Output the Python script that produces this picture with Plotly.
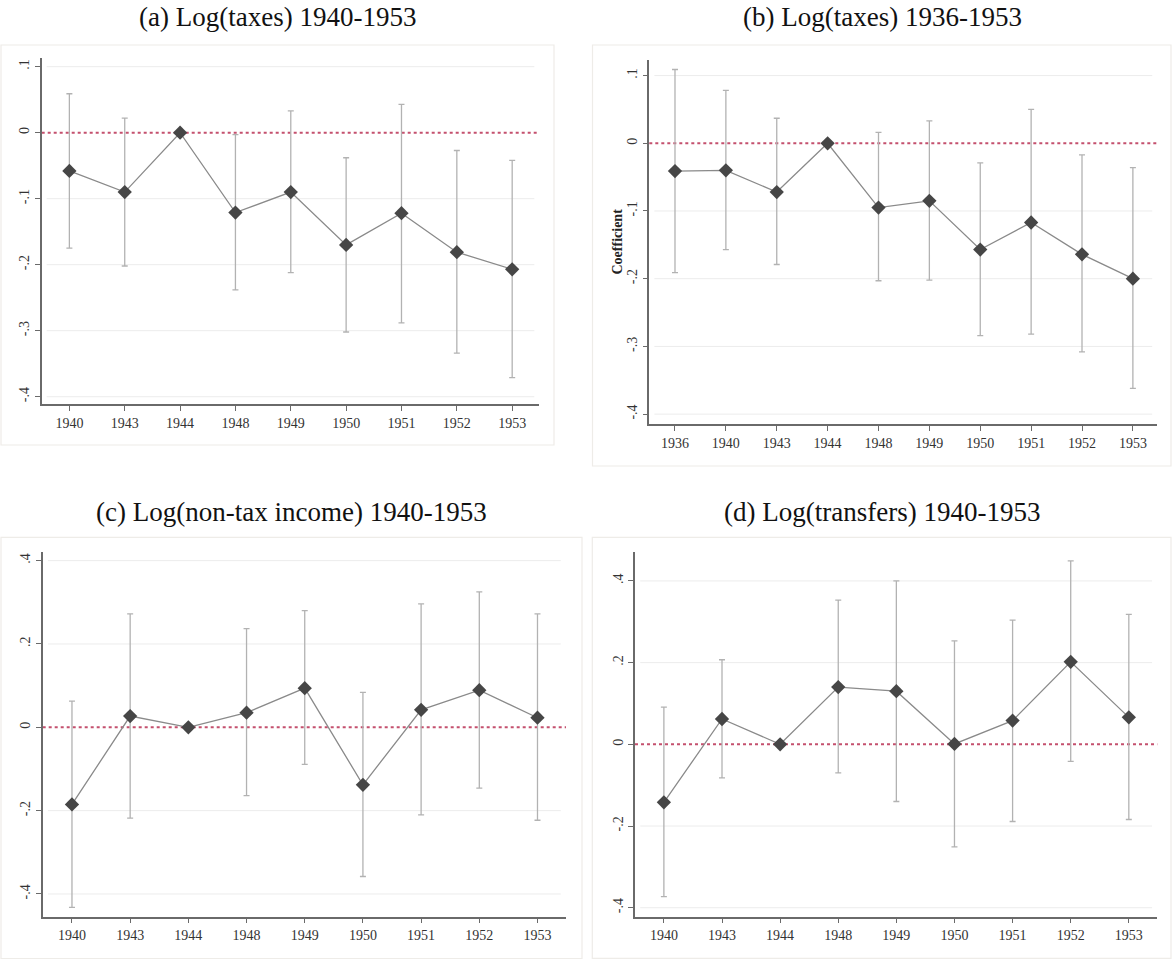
import plotly.graph_objects as go

# ---- data: event-study coefficients with 95% confidence bounds ----
years_a = ["1940", "1943", "1944", "1948", "1949", "1950", "1951", "1952", "1953"]
coef_a = [-0.058, -0.090, 0.0, -0.121, -0.090, -0.170, -0.122, -0.181, -0.207]
hi_a = [0.059, 0.022, None, -0.003, 0.033, -0.038, 0.043, -0.027, -0.042]
lo_a = [-0.175, -0.202, None, -0.238, -0.212, -0.302, -0.288, -0.334, -0.371]

years_b = ["1936", "1940", "1943", "1944", "1948", "1949", "1950", "1951", "1952", "1953"]
coef_b = [-0.041, -0.040, -0.072, 0.0, -0.095, -0.085, -0.157, -0.117, -0.164, -0.200]
hi_b = [0.109, 0.078, 0.037, None, 0.016, 0.033, -0.029, 0.050, -0.017, -0.036]
lo_b = [-0.191, -0.157, -0.179, None, -0.203, -0.202, -0.284, -0.282, -0.308, -0.362]

years_c = ["1940", "1943", "1944", "1948", "1949", "1950", "1951", "1952", "1953"]
coef_c = [-0.185, 0.027, 0.0, 0.035, 0.094, -0.138, 0.042, 0.089, 0.023]
hi_c = [0.063, 0.272, None, 0.237, 0.280, 0.084, 0.296, 0.325, 0.272]
lo_c = [-0.432, -0.218, None, -0.164, -0.089, -0.358, -0.210, -0.146, -0.223]

years_d = ["1940", "1943", "1944", "1948", "1949", "1950", "1951", "1952", "1953"]
coef_d = [-0.142, 0.062, 0.0, 0.140, 0.130, 0.001, 0.058, 0.202, 0.066]
hi_d = [0.091, 0.207, None, 0.353, 0.400, 0.253, 0.304, 0.449, 0.318]
lo_d = [-0.373, -0.082, None, -0.070, -0.140, -0.251, -0.189, -0.042, -0.184]

titles = ["(a) Log(taxes) 1940-1953", "(b) Log(taxes) 1936-1953",
          "(c) Log(non-tax income) 1940-1953", "(d) Log(transfers) 1940-1953"]

ticks_small = [0.1, 0.0, -0.1, -0.2, -0.3, -0.4]
ticks_small_txt = [".1", "0", "-.1", "-.2", "-.3", "-.4"]
ticks_large = [0.4, 0.2, 0.0, -0.2, -0.4]
ticks_large_txt = [".4", ".2", "0", "-.2", "-.4"]

W, H = 1172, 960
SERIF = "Liberation Serif"

def px_x(v):
    return v / W

def px_y(v):
    return 1 - v / H

# panel geometry in pixels: plot area (left, right, top, bottom), frame box, title centre
panels = [
    dict(years=years_a, coef=coef_a, hi=hi_a, lo=lo_a, plot=(41.7, 539.3, 58.3, 404.3),
         xr=[-0.5, 8.49], yr=[-0.4115, 0.1127], ticks=(ticks_small, ticks_small_txt),
         frame=(1, 554, 45, 445), title=(277.5, 17)),
    dict(years=years_b, coef=coef_b, hi=hi_b, lo=lo_b, plot=(649.3, 1157.3, 60, 424),
         xr=[-0.505, 9.48], yr=[-0.4146, 0.123], ticks=(ticks_small, ticks_small_txt),
         frame=(592.5, 1171, 45, 466), title=(882, 17)),
    dict(years=years_c, coef=coef_c, hi=hi_c, lo=lo_c, plot=(42.7, 566, 551.7, 916.7),
         xr=[-0.503, 8.49], yr=[-0.4545, 0.4214], ticks=(ticks_large, ticks_large_txt),
         frame=(1, 582, 537.3, 958.5), title=(291, 511.5)),
    dict(years=years_d, coef=coef_d, hi=hi_d, lo=lo_d, plot=(635, 1157.3, 551.7, 916.7),
         xr=[-0.497, 8.49], yr=[-0.422, 0.4715], ticks=(ticks_large, ticks_large_txt),
         frame=(592.3, 1171, 537.3, 958.3), title=(882, 511.5)),
]

fig = go.Figure()
shapes = []
annotations = []

for i, p in enumerate(panels, start=1):
    xa = "x" if i == 1 else f"x{i}"
    ya = "y" if i == 1 else f"y{i}"
    err_up = [None if h is None else h - c for h, c in zip(p["hi"], p["coef"])]
    err_dn = [None if l is None else c - l for l, c in zip(p["lo"], p["coef"])]

    # confidence intervals
    fig.add_trace(go.Scatter(
        x=p["years"], y=p["coef"], mode="markers", xaxis=xa, yaxis=ya,
        marker=dict(size=1, color="rgba(0,0,0,0)"),
        error_y=dict(type="data", symmetric=False, array=err_up, arrayminus=err_dn,
                     color="#b2b2b2", thickness=1.3, width=3),
        showlegend=False, hoverinfo="skip"))
    # point estimates joined by a line
    fig.add_trace(go.Scatter(
        x=p["years"], y=p["coef"], mode="lines+markers", xaxis=xa, yaxis=ya,
        line=dict(color="#8a8a8a", width=1.3),
        marker=dict(symbol="diamond", size=11, color="#464646"),
        showlegend=False))

    l, r, t, b = p["plot"]
    ax_common = dict(showline=True, linecolor="#6a6a6a", linewidth=1.5,
                     ticks="outside", ticklen=5, tickcolor="#6a6a6a", tickwidth=1.2,
                     tickfont=dict(family=SERIF, size=14, color="#333333"),
                     zeroline=False, showgrid=False, automargin=False)
    fig.layout[f"xaxis{'' if i == 1 else i}"] = dict(
        ax_common, type="category", range=p["xr"], domain=[px_x(l), px_x(r)],
        anchor=ya, tickangle=0)
    tv, tt = p["ticks"]
    fig.layout[f"yaxis{'' if i == 1 else i}"] = dict(
        ax_common, range=p["yr"], domain=[px_y(b), px_y(t)], anchor=xa,
        tickvals=tv, ticktext=tt, tickangle=-90)

    # horizontal grid at each labelled tick
    for v in tv:
        if v != 0:
            shapes.append(dict(type="line", xref=f"{xa} domain", yref=ya, x0=0.01, x1=0.99,
                               y0=v, y1=v, line=dict(color="#ececec", width=1), layer="below"))
    # reference line at zero, beneath the estimates
    shapes.append(dict(type="line", xref=f"{xa} domain", yref=ya, x0=0, x1=1, y0=0, y1=0,
                       line=dict(color="#c4506e", width=1.9, dash="3px,3px"), layer="below"))
    # panel frame
    fl, fr, ft, fb = p["frame"]
    shapes.append(dict(type="rect", xref="paper", yref="paper",
                       x0=px_x(fl), x1=px_x(fr), y0=px_y(fb), y1=px_y(ft),
                       line=dict(color="#eeece8", width=1.2), layer="below"))
    # panel title
    tx, ty = p["title"]
    annotations.append(dict(text=titles[i - 1], xref="paper", yref="paper",
                            x=px_x(tx), y=px_y(ty), xanchor="center", yanchor="middle",
                            showarrow=False, font=dict(family=SERIF, size=27, color="#111111")))

annotations.append(dict(text="<b>Coefficient</b>", xref="paper", yref="paper",
                        x=px_x(616.5), y=px_y(242), xanchor="center", yanchor="middle",
                        textangle=-90, showarrow=False,
                        font=dict(family=SERIF, size=14, color="#222222")))

fig.update_layout(width=W, height=H, margin=dict(l=0, r=0, t=0, b=0),
                  paper_bgcolor="white", plot_bgcolor="white",
                  shapes=shapes, annotations=annotations, showlegend=False)

fig.write_html("out.html")
